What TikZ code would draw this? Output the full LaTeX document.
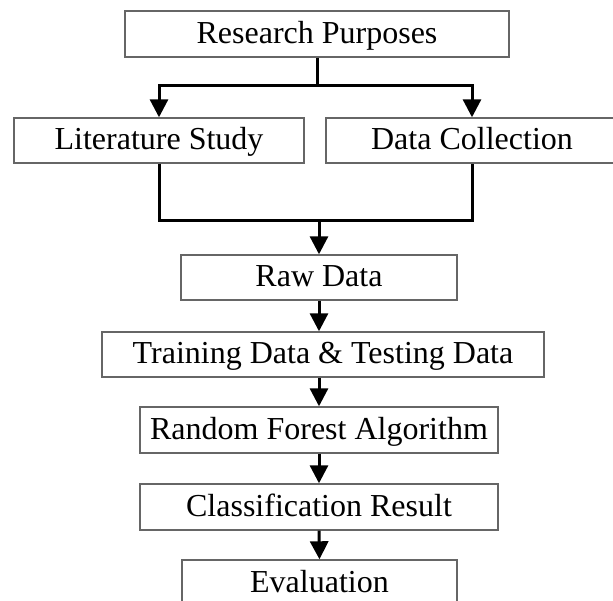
\documentclass[tikz,border=0pt]{standalone}
\usepackage{fontspec}
\setmainfont{Liberation Serif}
\usetikzlibrary{arrows.meta}
\begin{document}
\begin{tikzpicture}[x=1pt,y=-1pt,
  box/.style={draw=black!60,line width=1.4pt,fill=white,inner sep=0pt,
              text height=24pt,text depth=5pt,
              font=\fontsize{32}{38}\selectfont},
  link/.style={line width=3pt},
  flow/.style={line width=3pt,-{Triangle[length=18pt,width=18pt]}}]
\useasboundingbox (0,0) rectangle (613,601);
\clip (0,0) rectangle (613,601);

% process boxes
\node[box,minimum width=384pt,minimum height=46pt] (rp)  at (317,34)    {Research Purposes};
\node[box,minimum width=290pt,minimum height=45pt] (ls)  at (159,140.5) {Literature Study};
\node[box,minimum width=292pt,minimum height=45pt] (dc)  at (472,140.5) {Data Collection};
\node[box,minimum width=276pt,minimum height=45pt] (raw) at (319,277.5) {Raw Data};
\node[box,minimum width=442pt,minimum height=45pt] (td)  at (323,354.5) {Training Data \& Testing Data};
\node[box,minimum width=358pt,minimum height=46pt] (rf)  at (319,430)   {Random Forest Algorithm};
\node[box,minimum width=358pt,minimum height=46pt] (cr)  at (319,507)   {Classification Result};
\node[box,minimum width=275pt,minimum height=46pt] (ev)  at (319.5,583) {Evaluation};

% fork from the purposes into the two branches
\coordinate (fork) at (317,86);
\draw[link] (rp.south) -- (fork);
\draw[flow] (fork) -| (ls.north);
\draw[flow] (fork) -| (dc.north);

% branches merge into the raw data
\coordinate (merge) at (319,221);
\draw[link] (ls.south) |- (dc.south |- merge) -- (dc.south);
\draw[flow] (merge) -- (raw.north);

% main pipeline
\draw[flow] (raw.south) -- (raw.south |- td.north);
\draw[flow] (raw.south |- td.south) -- (rf.north);
\draw[flow] (rf.south) -- (cr.north);
\draw[flow] (cr.south) -- (ev.north);
\end{tikzpicture}
\end{document}
